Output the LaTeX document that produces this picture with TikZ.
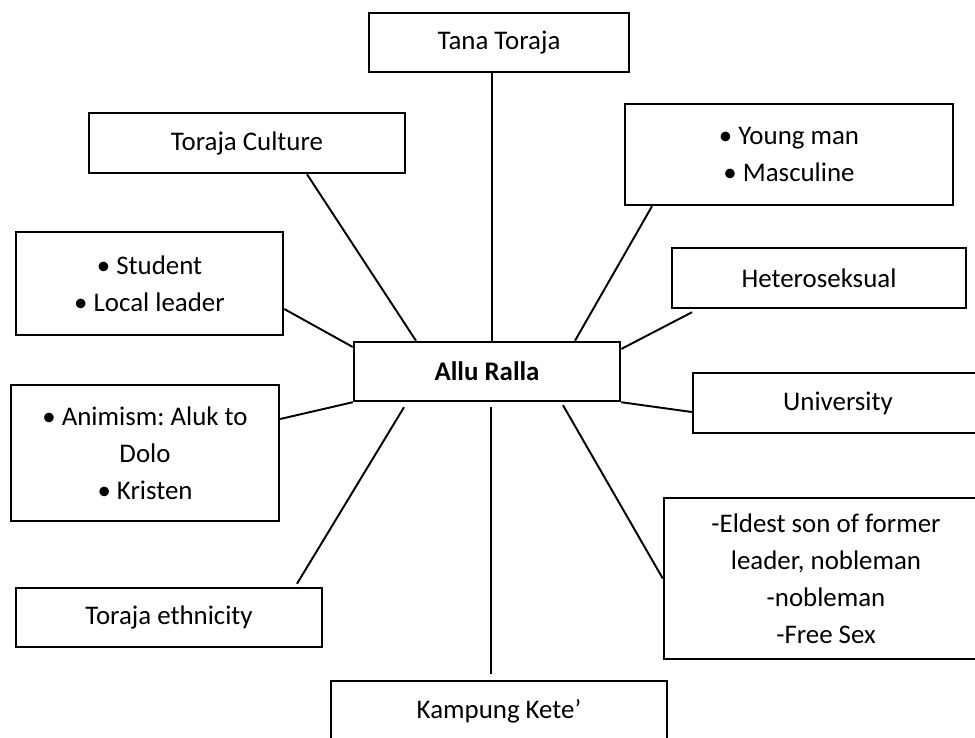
\documentclass[tikz,border=0pt]{standalone}
\usepackage{fontspec}
\setmainfont{Carlito}
\usepackage{tikz}
\usetikzlibrary{%
        positioning,
        shapes}
\frenchspacing
\tikzset{%
    box/.style={draw, line width=1.4pt, align=center, inner sep=2pt,
        font=\fontsize{15.3}{21}\selectfont},
    link/.style={line width=1.1pt}
}

\begin{document}
\begin{tikzpicture}

    \useasboundingbox (0, 0) rectangle (19.5, -14.76);

    \node[box, minimum width=5.32cm, minimum height=1.18cm] (allu)
        at (9.74, -7.43) {\textbf{Allu Ralla}};

    \node[box, minimum width=5.2cm, minimum height=1.18cm] (tana)
        at (9.98, -0.85) {Tana Toraja};
    \node[box, minimum width=6.32cm, minimum height=1.2cm] (culture)
        at (4.94, -2.86) {Toraja Culture};
    \node[box, minimum width=6.56cm, minimum height=2.02cm] (young)
        at (15.78, -3.09) {\textbullet~Young man\\ \textbullet~Masculine};
    \node[box, minimum width=5.34cm, minimum height=2.06cm] (student)
        at (2.99, -5.67) {\textbullet~Student\\ \textbullet~Local leader};
    \node[box, minimum width=5.88cm, minimum height=1.2cm] (hetero)
        at (16.38, -5.56) {Heteroseksual};
    \node[box, minimum width=5.36cm, minimum height=2.72cm] (animism)
        at (2.9, -9.06) {%
        \textbullet~Animism: Aluk to\\ Dolo\\ \textbullet~Kristen
    };
    \node[box, minimum width=5.8cm, minimum height=1.2cm] (univ)
        at (16.76, -8.06) {University};
    \node[box, minimum width=6.48cm, minimum height=3.22cm] (eldest)
        at (16.52, -11.57) {%
        -Eldest son of former\\ leader, nobleman\\ -nobleman\\ -Free Sex
    };
    \node[box, minimum width=6.12cm, minimum height=1.18cm] (ethnic)
        at (3.38, -12.35) {Toraja ethnicity};
    \node[box, minimum width=6.72cm, minimum height=1.2cm] (kampung)
        at (9.98, -14.22) {Kampung Kete’};

    % lines into the centre box
    \draw[link] ([xshift=-0.14cm] tana.south) -- ([xshift=0.1cm] allu.north);
    \draw[link] ([xshift=1.2cm] culture.south) -- ([xshift=-1.42cm] allu.north);
    \draw[link] ([xshift=-2.74cm] young.south) -- ([xshift=1.76cm] allu.north);
    \draw[link] ([yshift=-0.51cm] student.east) -- ([yshift=0.49cm] allu.west);
    \draw[link] ([xshift=-2.54cm, yshift=-0.06cm] hetero.south)
        -- ([yshift=0.45cm] allu.east);
    \draw[link] ([yshift=0.68cm] animism.east) -- (allu.south west);
    \draw[link] (allu.south east) -- ([yshift=-0.18cm] univ.west);
    \draw[link] ([xshift=-1.66cm, yshift=-0.1cm] allu.south)
        -- ([xshift=2.56cm, yshift=0.06cm] ethnic.north);
    \draw[link] ([xshift=0.08cm, yshift=-0.1cm] allu.south)
        -- ([xshift=-0.16cm, yshift=0.12cm] kampung.north);
    \draw[link] ([xshift=1.52cm, yshift=-0.06cm] allu.south) -- (eldest.west);

\end{tikzpicture}
\end{document}
